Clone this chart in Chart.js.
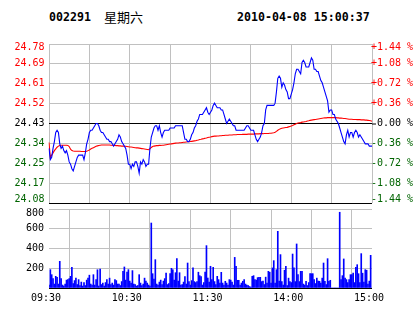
<!DOCTYPE html>
<html><head><meta charset="utf-8">
<script src="https://cdn.jsdelivr.net/npm/chart.js@4/dist/chart.umd.min.js"></script>
<style>
body{margin:0;background:#fff;width:414px;height:314px;overflow:hidden;position:relative;}
.hd{position:absolute;top:9px;font:bold 11.6px "DejaVu Sans Mono",monospace;color:#000;line-height:16px;white-space:pre;}
.cjk{position:absolute;top:8px;left:104px;font:13px "Noto Sans CJK SC",sans-serif;color:#000;line-height:18px;}
#c1{position:absolute;left:0;top:0;}
#c2{position:absolute;left:0;top:206px;}
</style></head><body>
<div class="hd" style="left:49px">002291</div>
<div class="cjk">星期六</div>
<div class="hd" style="left:237px">2010-04-08 15:00:37</div>
<canvas id="c1" width="414" height="206"></canvas>
<canvas id="c2" width="414" height="108"></canvas>
<script>
const prevClose = 24.43;
const pctTicks = [1.44, 1.08, 0.72, 0.36, 0, -0.36, -0.72, -1.08, -1.44];
const priceTickLabels = ['24.78','24.69','24.61','24.52','24.43','24.34','24.25','24.17','24.08'];
const pctTickLabels = ['+1.44 %','+1.08 %','+0.72 %','+0.36 %',' 0.00 %','-0.36 %','-0.72 %','-1.08 %','-1.44 %'];
const volTicks = [800, 600, 400, 200, 0];
const volTickLabels = ['800','600','400','200',''];
const timeTickLabels = ['09:30','10:30','11:30','14:00','15:00'];
const timeTickIndex = [0, 60, 120, 180, 240];
const timeGridIndex = [0, 30, 60, 90, 120, 150, 180, 210, 240];

const price = [
24.32,24.27,24.28,24.32,24.35,24.39,24.40,24.39,24.34,24.32,
24.33,24.31,24.30,24.31,24.29,24.26,24.25,24.23,24.22,24.24,
24.26,24.28,24.29,24.29,24.29,24.29,24.27,24.30,24.34,24.36,
24.39,24.40,24.40,24.41,24.42,24.43,24.43,24.42,24.40,24.39,
24.39,24.38,24.37,24.36,24.36,24.35,24.35,24.34,24.33,24.34,
24.35,24.36,24.38,24.37,24.35,24.34,24.33,24.32,24.29,24.25,
24.25,24.23,24.25,24.24,24.26,24.26,24.24,24.21,24.26,24.25,
24.27,24.26,24.24,24.25,24.25,24.32,24.37,24.39,24.41,24.42,
24.42,24.40,24.42,24.39,24.37,24.39,24.40,24.40,24.40,24.40,
24.41,24.41,24.41,24.41,24.42,24.42,24.42,24.42,24.42,24.42,
24.39,24.36,24.36,24.35,24.35,24.36,24.38,24.39,24.41,24.42,
24.44,24.45,24.47,24.47,24.47,24.48,24.49,24.50,24.48,24.47,
24.48,24.49,24.51,24.52,24.51,24.50,24.50,24.50,24.49,24.49,
24.47,24.45,24.43,24.44,24.45,24.44,24.43,24.42,24.42,24.40,
24.40,24.40,24.40,24.40,24.40,24.40,24.41,24.42,24.42,24.41,
24.40,24.40,24.40,24.38,24.36,24.35,24.36,24.37,24.39,24.42,
24.43,24.49,24.51,24.51,24.51,24.51,24.51,24.51,24.52,24.57,
24.63,24.64,24.63,24.59,24.61,24.60,24.58,24.57,24.54,24.54,
24.56,24.58,24.61,24.65,24.67,24.67,24.66,24.65,24.70,24.71,
24.70,24.68,24.68,24.68,24.70,24.72,24.71,24.67,24.67,24.66,
24.66,24.64,24.62,24.61,24.59,24.57,24.55,24.53,24.48,24.49,
24.49,24.47,24.47,24.45,24.44,24.43,24.41,24.39,24.37,24.35,
24.34,24.38,24.40,24.37,24.39,24.39,24.37,24.39,24.40,24.39,
24.37,24.38,24.37,24.36,24.35,24.34,24.34,24.34,24.33,24.33,
24.33];

const avgPrice = [
24.346,24.280,24.290,24.300,24.310,24.318,24.325,24.330,24.333,24.334,
24.334,24.334,24.334,24.334,24.333,24.328,24.316,24.310,24.308,24.307,
24.307,24.307,24.307,24.307,24.306,24.306,24.306,24.306,24.307,24.310,
24.313,24.317,24.320,24.323,24.326,24.329,24.331,24.333,24.334,24.335,
24.335,24.335,24.335,24.335,24.335,24.335,24.334,24.334,24.333,24.333,
24.332,24.332,24.331,24.331,24.330,24.330,24.329,24.329,24.328,24.327,
24.326,24.326,24.325,24.324,24.323,24.322,24.322,24.321,24.320,24.319,
24.318,24.317,24.316,24.315,24.314,24.318,24.324,24.328,24.330,24.331,
24.332,24.332,24.333,24.333,24.334,24.334,24.335,24.336,24.337,24.338,
24.339,24.340,24.341,24.342,24.343,24.344,24.344,24.345,24.345,24.346,
24.347,24.347,24.348,24.349,24.349,24.350,24.351,24.352,24.353,24.354,
24.356,24.357,24.359,24.360,24.362,24.363,24.365,24.366,24.368,24.369,
24.370,24.372,24.373,24.374,24.374,24.375,24.375,24.376,24.376,24.377,
24.377,24.378,24.378,24.378,24.379,24.379,24.379,24.380,24.380,24.380,
24.381,24.381,24.381,24.381,24.382,24.382,24.382,24.382,24.383,24.383,
24.383,24.383,24.383,24.384,24.384,24.384,24.384,24.385,24.385,24.385,
24.386,24.386,24.386,24.386,24.387,24.387,24.388,24.389,24.391,24.395,
24.400,24.404,24.407,24.409,24.410,24.411,24.412,24.413,24.415,24.417,
24.419,24.421,24.424,24.427,24.430,24.432,24.433,24.434,24.436,24.437,
24.438,24.439,24.441,24.442,24.444,24.445,24.446,24.447,24.448,24.449,
24.450,24.451,24.452,24.453,24.454,24.455,24.455,24.456,24.456,24.456,
24.456,24.456,24.456,24.456,24.455,24.455,24.454,24.454,24.453,24.452,
24.452,24.451,24.450,24.449,24.449,24.449,24.448,24.448,24.448,24.447,
24.447,24.447,24.446,24.446,24.446,24.445,24.445,24.444,24.443,24.442,
24.440];

const volume = [
30,186,135,95,40,118,108,40,270,95,
30,20,40,80,85,95,118,209,45,75,
100,35,85,25,60,20,55,25,80,100,
130,40,30,135,30,85,185,20,192,35,
50,20,55,85,40,100,35,50,30,85,
75,40,40,25,65,169,213,80,162,186,
70,50,176,40,35,20,25,135,50,25,
40,100,70,50,30,20,658,145,90,287,
40,30,60,80,35,70,95,150,35,45,
145,199,185,80,155,297,70,155,30,35,
60,115,40,253,65,30,75,203,65,55,
65,160,125,115,30,55,160,429,101,60,
220,85,209,65,35,118,85,50,159,50,
30,68,50,30,85,80,60,30,310,220,
78,78,30,50,68,85,40,30,25,15,
10,118,125,85,80,105,108,108,65,70,
35,110,50,169,160,50,203,277,50,186,
574,70,338,65,30,180,220,25,100,65,
55,344,203,65,446,135,65,169,169,40,
30,68,25,55,145,145,145,85,45,100,
70,68,50,100,253,68,35,297,68,78,
0,0,0,0,0,0,767,85,125,294,
101,85,55,85,135,135,150,55,210,236,
145,55,348,150,60,186,180,40,70,331,
0];

const minutes = [];
for (let i = 0; i < price.length; i++) {
  const m = i <= 120 ? 570 + i : 780 + (i - 120);
  minutes.push(String(Math.floor(m / 60)).padStart(2, '0') + ':' + String(m % 60).padStart(2, '0'));
}

const GRAY = '#c0c0c0';
const LABEL_FONT = '10px "DejaVu Sans Mono", monospace';
const pMin = prevClose * (1 - 1.44 / 100);
const pMax = prevClose * (1 + 1.44 / 100);

function xScaleCfg() {
  return {
    type: 'category', offset: false,
    grid: { color: GRAY, lineWidth: 1, drawTicks: false },
    border: { display: false },
    ticks: { display: false, autoSkip: false },
    afterBuildTicks: ax => { ax.ticks = timeGridIndex.map(v => ({ value: v })); },
    afterFit: ax => { ax.height = 0; }
  };
}

const priceLabels = {
  id: 'priceLabels',
  afterDraw(chart) {
    const ctx = chart.ctx, ys = chart.scales.y, a = chart.chartArea;
    ctx.save();
    ctx.font = LABEL_FONT;
    ctx.textBaseline = 'middle';
    pctTicks.forEach((p, k) => {
      let py = ys.getPixelForValue(prevClose * (1 + p / 100));
      py = Math.min(Math.max(py, a.top + 3), a.bottom - 3.5);
      const col = p > 0 ? '#ff0000' : (p < 0 ? '#006400' : '#000000');
      ctx.fillStyle = col;
      ctx.textAlign = 'right';
      ctx.fillText(priceTickLabels[k], a.left - 4.5, py);
      ctx.textAlign = 'left';
      ctx.fillText(pctTickLabels[k], a.right - 1, py);
      if (p === 0) {
        ctx.fillRect(a.right, Math.round(py) - 0.5, 4, 1);
      }
    });
    ctx.restore();
  }
};

const volLabels = {
  id: 'volLabels',
  afterDraw(chart) {
    const ctx = chart.ctx, ys = chart.scales.y, xs = chart.scales.x, a = chart.chartArea;
    ctx.save();
    ctx.font = LABEL_FONT;
    ctx.fillStyle = '#000';
    ctx.textBaseline = 'middle';
    ctx.textAlign = 'right';
    volTicks.forEach((v, k) => {
      if (!volTickLabels[k]) return;
      let py = ys.getPixelForValue(v);
      py = Math.max(py, a.top + 4);
      ctx.fillText(volTickLabels[k], a.left - 5, py);
    });
    ctx.textAlign = 'center';
    timeTickIndex.forEach((idx, k) => {
      ctx.fillText(timeTickLabels[k], xs.getPixelForValue(idx) - 3, a.bottom + 10.7);
    });
    ctx.restore();
  }
};

new Chart(document.getElementById('c1'), {
  type: 'line',
  data: {
    labels: minutes,
    datasets: [
      { data: price, borderColor: '#0000ff', borderWidth: 1.1, pointRadius: 0, tension: 0, fill: false },
      { data: avgPrice, borderColor: '#ff0000', borderWidth: 1.1, pointRadius: 0, tension: 0, fill: false }
    ]
  },
  options: {
    responsive: false, animation: false, devicePixelRatio: 1,
    layout: { autoPadding: false, padding: { left: 49, right: 42, top: 44, bottom: 3 } },
    plugins: { legend: { display: false }, tooltip: { enabled: false } },
    scales: {
      x: xScaleCfg(),
      y: {
        type: 'linear', min: pMin, max: pMax,
        grid: {
          color: c => (c.tick && (Math.abs(c.tick.value - prevClose) < 1e-6 || Math.abs(c.tick.value - pMin) < 1e-6)) ? '#000000' : GRAY,
          lineWidth: 1, drawTicks: false
        },
        border: { display: false },
        ticks: { display: false },
        afterBuildTicks: ax => { ax.ticks = pctTicks.slice().reverse().map(p => ({ value: prevClose * (1 + p / 100) })); },
        afterFit: ax => { ax.width = 0; }
      }
    }
  },
  plugins: [priceLabels]
});

new Chart(document.getElementById('c2'), {
  type: 'bar',
  data: {
    labels: minutes,
    datasets: [{ data: volume, backgroundColor: '#0000ff', borderWidth: 0, barThickness: 1 }]
  },
  options: {
    responsive: false, animation: false, devicePixelRatio: 1,
    layout: { autoPadding: false, padding: { left: 49, right: 42, top: 3, bottom: 26 } },
    plugins: { legend: { display: false }, tooltip: { enabled: false } },
    scales: {
      x: xScaleCfg(),
      y: {
        type: 'linear', min: 0, max: 800,
        grid: { color: c => (c.tick && c.tick.value === 0) ? '#000000' : GRAY, lineWidth: 1, drawTicks: false },
        border: { display: false },
        ticks: { display: false },
        afterBuildTicks: ax => { ax.ticks = volTicks.slice().reverse().map(v => ({ value: v })); },
        afterFit: ax => { ax.width = 0; }
      }
    }
  },
  plugins: [volLabels]
});
</script>
</body></html>
